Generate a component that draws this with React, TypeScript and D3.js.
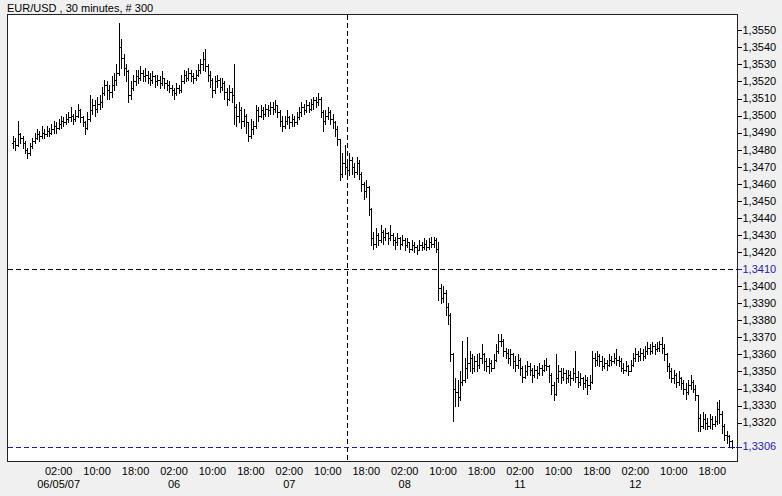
import React from "react";
import * as d3 from "d3";

const TITLE = "EUR/USD , 30 minutes, # 300";

const opens = [
1.3484,1.3485,1.3483,1.3489,1.3487,1.3484,1.3480,1.3478,1.3482,1.3485,
1.3487,1.3489,1.3488,1.3490,1.3489,1.3491,1.3490,1.3492,1.3494,1.3493,
1.3495,1.3497,1.3496,1.3498,1.3499,1.3500,1.3498,1.3500,1.3503,1.3499,
1.3496,1.3493,1.3498,1.3503,1.3506,1.3504,1.3507,1.3508,1.3513,1.3518,
1.3515,1.3514,1.3518,1.3521,1.3525,1.3540,1.3534,1.3528,1.3526,1.3512,
1.3516,1.3520,1.3523,1.3522,1.3525,1.3523,1.3524,1.3522,1.3521,1.3523,
1.3520,1.3521,1.3519,1.3522,1.3519,1.3518,1.3516,1.3515,1.3513,1.3516,
1.3515,1.3520,1.3524,1.3522,1.3525,1.3523,1.3522,1.3524,1.3527,1.3530,
1.3533,1.3529,1.3524,1.3521,1.3515,1.3520,1.3521,1.3517,1.3519,1.3514,
1.3510,1.3514,1.3512,1.3505,1.3500,1.3503,1.3497,1.3500,1.3496,1.3488,
1.3492,1.3494,1.3503,1.3500,1.3503,1.3501,1.3504,1.3503,1.3505,1.3504,
1.3506,1.3502,1.3497,1.3494,1.3497,1.3499,1.3496,1.3498,1.3496,1.3499,
1.3502,1.3505,1.3503,1.3506,1.3504,1.3507,1.3509,1.3508,1.3510,1.3502,
1.3497,1.3500,1.3502,1.3498,1.3496,1.3492,1.3486,1.3466,1.3472,1.3470,
1.3468,1.3474,1.3470,1.3467,1.3472,1.3466,1.3460,1.3456,1.3458,1.3445,
1.3428,1.3425,1.3430,1.3427,1.3432,1.3429,1.3431,1.3428,1.3430,1.3427,
1.3426,1.3428,1.3425,1.3427,1.3424,1.3426,1.3422,1.3424,1.3423,1.3421,
1.3424,1.3423,1.3425,1.3423,1.3426,1.3425,1.3427,1.3422,1.3399,1.3393,
1.3396,1.3388,1.3383,1.3360,1.3340,1.3338,1.3335,1.3344,1.3345,1.3352,
1.3355,1.3358,1.3352,1.3356,1.3354,1.3358,1.3360,1.3356,1.3353,1.3355,
1.3352,1.3357,1.3362,1.3368,1.3368,1.3362,1.3361,1.3358,1.3360,1.3356,
1.3354,1.3357,1.3352,1.3347,1.3350,1.3353,1.3351,1.3348,1.3351,1.3349,
1.3352,1.3351,1.3354,1.3353,1.3348,1.3342,1.3337,1.3346,1.3350,1.3347,
1.3349,1.3346,1.3348,1.3346,1.3349,1.3347,1.3344,1.3346,1.3343,1.3345,
1.3342,1.3344,1.3358,1.3357,1.3359,1.3356,1.3353,1.3355,1.3354,1.3357,
1.3356,1.3358,1.3357,1.3356,1.3352,1.3351,1.3353,1.3350,1.3354,1.3358,
1.3360,1.3359,1.3361,1.3359,1.3362,1.3364,1.3362,1.3365,1.3363,1.3364,
1.3366,1.3364,1.3360,1.3353,1.3350,1.3346,1.3348,1.3344,1.3346,1.3343,
1.3340,1.3338,1.3342,1.3344,1.3340,1.3336,1.3323,1.3318,1.3322,1.3320,
1.3318,1.3322,1.3319,1.3321,1.3328,1.3325,1.3318,1.3313,1.3312,1.3309,
];

const highs = [
1.3488,1.3487,1.3497,1.3490,1.3488,1.3485,1.3481,1.3484,1.3487,1.3490,
1.3492,1.3491,1.3494,1.3492,1.3494,1.3493,1.3495,1.3497,1.3496,1.3498,
1.3500,1.3499,1.3501,1.3502,1.3505,1.3501,1.3503,1.3507,1.3504,1.3500,
1.3497,1.3502,1.3512,1.3510,1.3509,1.3511,1.3512,1.3517,1.3521,1.3520,
1.3518,1.3523,1.3525,1.3530,1.3554,1.3545,1.3536,1.3530,1.3527,1.3520,
1.3524,1.3527,1.3527,1.3529,1.3527,1.3528,1.3526,1.3525,1.3526,1.3524,
1.3524,1.3523,1.3526,1.3522,1.3521,1.3520,1.3518,1.3516,1.3519,1.3518,
1.3524,1.3527,1.3526,1.3528,1.3527,1.3525,1.3527,1.3530,1.3533,1.3537,
1.3539,1.3530,1.3526,1.3522,1.3523,1.3524,1.3522,1.3522,1.3520,1.3516,
1.3518,1.3516,1.3530,1.3507,1.3508,1.3505,1.3504,1.3501,1.3496,1.3498,
1.3497,1.3506,1.3505,1.3506,1.3505,1.3507,1.3506,1.3508,1.3508,1.3509,
1.3506,1.3503,1.3500,1.3500,1.3503,1.3500,1.3501,1.3500,1.3502,1.3505,
1.3508,1.3507,1.3509,1.3508,1.3510,1.3511,1.3511,1.3513,1.3511,1.3503,
1.3503,1.3505,1.3503,1.3501,1.3497,1.3494,1.3486,1.3478,1.3483,1.3474,
1.3478,1.3476,1.3472,1.3476,1.3474,1.3467,1.3461,1.3462,1.3459,1.3446,
1.3432,1.3434,1.3431,1.3436,1.3433,1.3434,1.3432,1.3436,1.3431,1.3429,
1.3431,1.3429,1.3430,1.3428,1.3428,1.3426,1.3427,1.3426,1.3424,1.3427,
1.3426,1.3428,1.3427,1.3428,1.3429,1.3429,1.3428,1.3426,1.3401,1.3400,
1.3398,1.3390,1.3384,1.3361,1.3346,1.3345,1.3350,1.3368,1.3358,1.3370,
1.3362,1.3360,1.3359,1.3360,1.3361,1.3366,1.3361,1.3358,1.3358,1.3357,
1.3360,1.3366,1.3372,1.3372,1.3369,1.3364,1.3363,1.3363,1.3361,1.3359,
1.3360,1.3358,1.3353,1.3354,1.3356,1.3355,1.3352,1.3354,1.3353,1.3355,
1.3354,1.3357,1.3358,1.3354,1.3349,1.3344,1.3360,1.3354,1.3352,1.3352,
1.3351,1.3351,1.3350,1.3352,1.3362,1.3350,1.3349,1.3347,1.3348,1.3347,
1.3348,1.3362,1.3361,1.3362,1.3360,1.3359,1.3358,1.3357,1.3360,1.3359,
1.3361,1.3363,1.3359,1.3358,1.3355,1.3356,1.3354,1.3357,1.3361,1.3364,
1.3362,1.3364,1.3363,1.3365,1.3367,1.3366,1.3367,1.3366,1.3367,1.3368,
1.3370,1.3366,1.3361,1.3355,1.3352,1.3351,1.3349,1.3350,1.3347,1.3345,
1.3343,1.3345,1.3348,1.3345,1.3342,1.3336,1.3325,1.3326,1.3325,1.3323,
1.3325,1.3324,1.3324,1.3332,1.3333,1.3327,1.3319,1.3315,1.3313,1.3310,
];

const lows = [
1.3481,1.3480,1.3482,1.3484,1.3481,1.3478,1.3475,1.3477,1.3481,1.3484,
1.3486,1.3485,1.3487,1.3487,1.3488,1.3488,1.3489,1.3490,1.3490,1.3492,
1.3493,1.3494,1.3495,1.3496,1.3497,1.3495,1.3497,1.3499,1.3496,1.3494,
1.3489,1.3492,1.3497,1.3501,1.3500,1.3502,1.3504,1.3505,1.3512,1.3510,
1.3510,1.3511,1.3515,1.3518,1.3524,1.3528,1.3524,1.3520,1.3508,1.3510,
1.3515,1.3518,1.3519,1.3521,1.3520,1.3520,1.3519,1.3518,1.3519,1.3517,
1.3518,1.3516,1.3518,1.3516,1.3515,1.3514,1.3512,1.3510,1.3512,1.3513,
1.3514,1.3519,1.3520,1.3521,1.3520,1.3519,1.3521,1.3523,1.3525,1.3527,
1.3526,1.3520,1.3517,1.3511,1.3513,1.3517,1.3514,1.3515,1.3510,1.3506,
1.3509,1.3508,1.3495,1.3494,1.3496,1.3493,1.3494,1.3490,1.3485,1.3487,
1.3489,1.3493,1.3497,1.3499,1.3498,1.3500,1.3500,1.3501,1.3501,1.3502,
1.3499,1.3494,1.3491,1.3493,1.3495,1.3493,1.3494,1.3494,1.3495,1.3498,
1.3500,1.3501,1.3502,1.3502,1.3503,1.3504,1.3505,1.3506,1.3499,1.3491,
1.3495,1.3498,1.3495,1.3493,1.3488,1.3483,1.3462,1.3464,1.3466,1.3463,
1.3465,1.3466,1.3464,1.3466,1.3463,1.3456,1.3451,1.3452,1.3442,1.3424,
1.3422,1.3423,1.3424,1.3426,1.3425,1.3427,1.3425,1.3427,1.3424,1.3422,
1.3424,1.3422,1.3424,1.3421,1.3423,1.3420,1.3421,1.3420,1.3419,1.3421,
1.3421,1.3422,1.3421,1.3422,1.3423,1.3423,1.3420,1.3392,1.3390,1.3391,
1.3383,1.3378,1.3356,1.3321,1.3330,1.3330,1.3333,1.3342,1.3344,1.3346,
1.3350,1.3349,1.3350,1.3350,1.3352,1.3355,1.3351,1.3350,1.3349,1.3350,
1.3352,1.3356,1.3361,1.3365,1.3359,1.3358,1.3355,1.3354,1.3352,1.3350,
1.3352,1.3348,1.3344,1.3346,1.3348,1.3348,1.3344,1.3347,1.3346,1.3348,
1.3348,1.3350,1.3351,1.3344,1.3337,1.3333,1.3336,1.3344,1.3343,1.3345,
1.3343,1.3344,1.3342,1.3345,1.3344,1.3341,1.3342,1.3340,1.3341,1.3337,
1.3340,1.3343,1.3353,1.3354,1.3353,1.3351,1.3352,1.3351,1.3353,1.3354,
1.3355,1.3354,1.3353,1.3350,1.3349,1.3350,1.3348,1.3350,1.3353,1.3356,
1.3356,1.3357,1.3357,1.3358,1.3360,1.3360,1.3361,1.3360,1.3362,1.3362,
1.3361,1.3357,1.3350,1.3346,1.3344,1.3343,1.3341,1.3342,1.3340,1.3337,
1.3334,1.3337,1.3340,1.3338,1.3333,1.3315,1.3315,1.3317,1.3316,1.3316,
1.3317,1.3316,1.3318,1.3319,1.3320,1.3314,1.3310,1.3308,1.3306,1.3305,
];

const closes = [
1.3485,1.3483,1.3489,1.3487,1.3484,1.3480,1.3478,1.3482,1.3485,1.3487,
1.3489,1.3488,1.3490,1.3489,1.3491,1.3490,1.3492,1.3494,1.3493,1.3495,
1.3497,1.3496,1.3498,1.3499,1.3500,1.3498,1.3500,1.3503,1.3499,1.3496,
1.3493,1.3498,1.3503,1.3506,1.3504,1.3507,1.3508,1.3513,1.3518,1.3515,
1.3514,1.3518,1.3521,1.3525,1.3540,1.3534,1.3528,1.3526,1.3512,1.3516,
1.3520,1.3523,1.3522,1.3525,1.3523,1.3524,1.3522,1.3521,1.3523,1.3520,
1.3521,1.3519,1.3522,1.3519,1.3518,1.3516,1.3515,1.3513,1.3516,1.3515,
1.3520,1.3524,1.3522,1.3525,1.3523,1.3522,1.3524,1.3527,1.3530,1.3533,
1.3529,1.3524,1.3521,1.3515,1.3520,1.3521,1.3517,1.3519,1.3514,1.3510,
1.3514,1.3512,1.3505,1.3500,1.3503,1.3497,1.3500,1.3496,1.3488,1.3492,
1.3494,1.3503,1.3500,1.3503,1.3501,1.3504,1.3503,1.3505,1.3504,1.3506,
1.3502,1.3497,1.3494,1.3497,1.3499,1.3496,1.3498,1.3496,1.3499,1.3502,
1.3505,1.3503,1.3506,1.3504,1.3507,1.3509,1.3508,1.3510,1.3502,1.3497,
1.3500,1.3502,1.3498,1.3496,1.3492,1.3486,1.3466,1.3472,1.3470,1.3468,
1.3474,1.3470,1.3467,1.3472,1.3466,1.3460,1.3456,1.3458,1.3445,1.3428,
1.3425,1.3430,1.3427,1.3432,1.3429,1.3431,1.3428,1.3430,1.3427,1.3426,
1.3428,1.3425,1.3427,1.3424,1.3426,1.3422,1.3424,1.3423,1.3421,1.3424,
1.3423,1.3425,1.3423,1.3426,1.3425,1.3427,1.3422,1.3399,1.3393,1.3396,
1.3388,1.3383,1.3360,1.3340,1.3338,1.3335,1.3344,1.3345,1.3352,1.3355,
1.3358,1.3352,1.3356,1.3354,1.3358,1.3360,1.3356,1.3353,1.3355,1.3352,
1.3357,1.3362,1.3368,1.3368,1.3362,1.3361,1.3358,1.3360,1.3356,1.3354,
1.3357,1.3352,1.3347,1.3350,1.3353,1.3351,1.3348,1.3351,1.3349,1.3352,
1.3351,1.3354,1.3353,1.3348,1.3342,1.3337,1.3346,1.3350,1.3347,1.3349,
1.3346,1.3348,1.3346,1.3349,1.3347,1.3344,1.3346,1.3343,1.3345,1.3342,
1.3344,1.3358,1.3357,1.3359,1.3356,1.3353,1.3355,1.3354,1.3357,1.3356,
1.3358,1.3357,1.3356,1.3352,1.3351,1.3353,1.3350,1.3354,1.3358,1.3360,
1.3359,1.3361,1.3359,1.3362,1.3364,1.3362,1.3365,1.3363,1.3364,1.3366,
1.3364,1.3360,1.3353,1.3350,1.3346,1.3348,1.3344,1.3346,1.3343,1.3340,
1.3338,1.3342,1.3344,1.3340,1.3336,1.3323,1.3318,1.3322,1.3320,1.3318,
1.3322,1.3319,1.3321,1.3328,1.3325,1.3318,1.3313,1.3312,1.3309,1.3306,
];

const timeLabels = ["02:00","10:00","18:00","02:00","10:00","18:00","02:00","10:00","18:00",
  "02:00","10:00","18:00","02:00","10:00","18:00","02:00","10:00","18:00"];
const timeLabelBars = [19,35,51,67,83,99,115,131,147,163,179,195,211,227,243,259,275,291];
const dateLabels = ["06/05/07","06","07","08","11","12"];
const dateLabelBars = [19,67,115,163,211,259];

const yTickValues = d3.range(13320, 13551, 10).map((v) => v / 10000);
const crossBar = 139;
const crossPrice = 1.341;
const lastPrice = 1.3306;

const FONT = "'Liberation Sans', Arial, sans-serif";
const BLUE = "#1c1cb4";

export default function App() {
  const W = 782, H = 496;
  const L = 7.5, R = 737.5, T = 14.5, B = 461.5;
  const x = d3.scaleLinear().domain([0, 299]).range([13, 731.5]);
  const y = d3.scaleLinear().domain([1.3306, 1.355]).range([446.5, 30.3]);
  const fmt = (v: number) => v.toFixed(4).replace(".", ",");
  const px = (v: number) => Math.round(v) + 0.5;

  const bars = closes.map((c, i) => {
    const xi = px(x(i));
    const yo = px(y(opens[i]));
    const yc = px(y(closes[i]));
    const yh = Math.round(y(highs[i]));
    const yl = Math.round(y(lows[i])) + 1;
    return `M${xi},${yh}V${yl}M${xi - 2},${yo}H${xi}M${xi},${yc}H${xi + 2}`;
  });

  const ticks = yTickValues.filter((v) => Math.abs(v - crossPrice) > 1e-6);

  return (
    <svg width={W} height={H} style={{ position: "absolute", left: 0, top: 0, display: "block" }}
      fontFamily={FONT} fontSize={11}>
      <defs>
        <clipPath id="plotclip">
          <rect x={L + 0.5} y={T + 0.5} width={R - L - 1} height={B - T - 1} />
        </clipPath>
      </defs>
      <rect x={0} y={0} width={W} height={H} fill="#f0f0f0" />
      <rect x={L} y={T} width={R - L} height={B - T} fill="#ffffff" stroke="#222" strokeWidth={1} shapeRendering="crispEdges" />
      <text x={7} y={12} fill="#000">{TITLE}</text>
      <g clipPath="url(#plotclip)">
        <path d={bars.join("")} stroke="#000" strokeWidth={1} fill="none" shapeRendering="crispEdges" />
        <line x1={L} x2={R} y1={px(y(crossPrice))} y2={px(y(crossPrice))} stroke="#000" strokeDasharray="5,3" shapeRendering="crispEdges" />
        <line x1={px(x(crossBar))} x2={px(x(crossBar))} y1={T} y2={B} stroke="#000" strokeDasharray="5,3" shapeRendering="crispEdges" />
        <line x1={L} x2={R} y1={px(y(lastPrice))} y2={px(y(lastPrice))} stroke={BLUE} strokeDasharray="5,3" shapeRendering="crispEdges" />
      </g>
      <g>
        {ticks.map((v) => (
          <g key={v}>
            <line x1={R} x2={R + 4} y1={px(y(v))} y2={px(y(v))} stroke="#000" shapeRendering="crispEdges" />
            <text x={R + 5} y={y(v)} dy="0.35em" fill="#000">{fmt(v)}</text>
          </g>
        ))}
        {[crossPrice, lastPrice].map((v) => (
          <g key={"b" + v}>
            <line x1={R} x2={R + 4} y1={px(y(v))} y2={px(y(v))} stroke={BLUE} shapeRendering="crispEdges" />
            <text x={R + 5} y={y(v)} dy="0.35em" fill={BLUE}>{fmt(v)}</text>
          </g>
        ))}
      </g>
      <g textAnchor="middle" fill="#000">
        {timeLabels.map((t, k) => (
          <text key={"t" + k} x={x(timeLabelBars[k])} y={474.5}>{t}</text>
        ))}
        {dateLabels.map((t, k) => (
          <text key={"d" + k} x={x(dateLabelBars[k])} y={488}>{t}</text>
        ))}
      </g>
    </svg>
  );
}
